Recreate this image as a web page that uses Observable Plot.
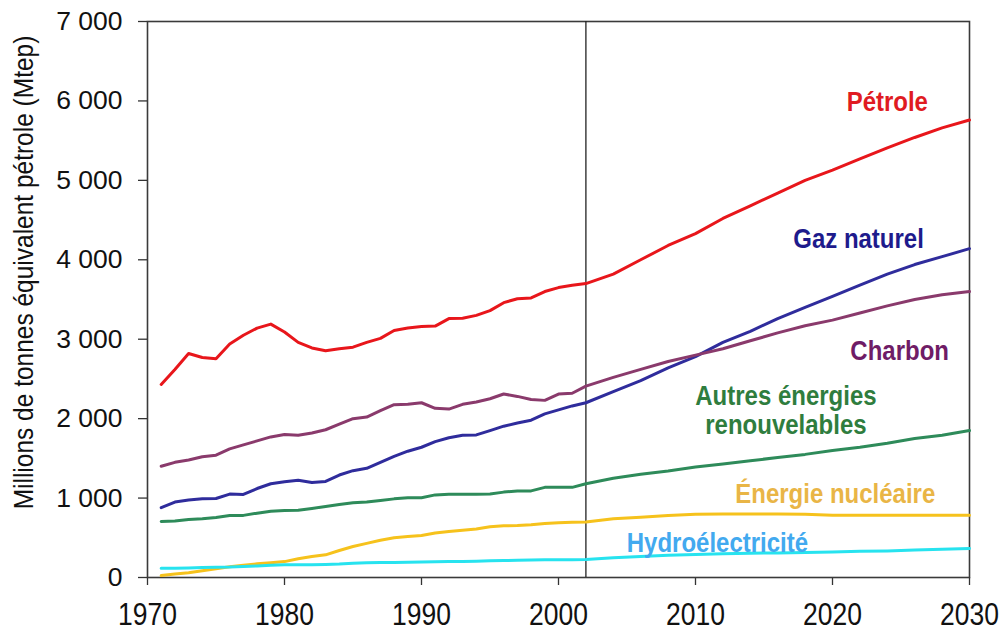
<!DOCTYPE html>
<html>
<head>
<meta charset="utf-8">
<script src="https://cdn.jsdelivr.net/npm/d3@7"></script>
<script src="https://cdn.jsdelivr.net/npm/@observablehq/plot@0.6"></script>
<style>
  html, body { margin: 0; padding: 0; background: #fff; }
  #chart svg { display: block; font-family: "Liberation Sans", Arial, sans-serif; }
</style>
</head>
<body>
<div id="chart"></div>
<script>
const years = [1971,1972,1973,1974,1975,1976,1977,1978,1979,1980,1981,1982,1983,1984,1985,1986,1987,1988,1989,1990,1991,1992,1993,1994,1995,1996,1997,1998,1999,2000,2001,2002,2004,2006,2008,2010,2012,2014,2016,2018,2020,2022,2024,2026,2028,2030];

const petrole = [2430,2620,2820,2770,2755,2940,3050,3140,3190,3090,2960,2890,2855,2880,2900,2960,3010,3110,3140,3160,3165,3260,3265,3300,3360,3460,3510,3520,3600,3650,3680,3700,3820,4000,4180,4330,4520,4680,4840,5000,5130,5270,5410,5540,5660,5760];
const gaz = [880,950,975,990,995,1050,1045,1120,1180,1205,1225,1195,1210,1290,1345,1375,1450,1525,1590,1640,1710,1760,1790,1795,1850,1905,1945,1980,2060,2110,2160,2200,2340,2480,2640,2780,2960,3100,3260,3400,3540,3680,3820,3940,4040,4140];
const charbon = [1400,1450,1480,1520,1540,1620,1670,1720,1770,1800,1790,1820,1860,1930,2000,2020,2100,2175,2180,2200,2130,2120,2180,2210,2250,2310,2280,2240,2230,2310,2320,2410,2520,2620,2720,2800,2880,2980,3080,3170,3240,3330,3420,3500,3560,3600];
const autres = [705,710,730,740,755,780,782,810,835,845,848,870,895,920,940,950,970,990,1005,1005,1040,1047,1047,1048,1050,1075,1090,1090,1135,1135,1135,1180,1250,1300,1340,1390,1430,1470,1510,1550,1600,1640,1690,1750,1790,1850];
const nucleaire = [25,45,60,85,110,135,155,172,185,200,235,265,285,340,390,430,470,500,515,530,560,580,595,610,640,650,655,665,680,690,695,700,740,760,780,795,800,800,800,795,785,785,785,785,785,785];
const hydro = [115,118,120,125,130,132,138,145,155,160,160,162,165,170,180,185,188,190,192,195,198,200,203,205,210,213,216,220,222,225,225,228,250,265,280,290,300,305,310,315,320,330,335,345,355,365];

const seriesNames = ["Pétrole", "Gaz naturel", "Charbon", "Autres énergies\nrenouvelables", "Énergie nucléaire", "Hydroélectricité"];
const seriesValues = [petrole, gaz, charbon, autres, nucleaire, hydro];
const lineColors = ["#e8161b", "#2f2c9c", "#8a3a6c", "#2e8b5a", "#f6c21c", "#27e3ef"];
const labelColors = ["#e01b22", "#1e1b8c", "#6f1c66", "#2f7d3e", "#e9b546", "#42a9ef"];
const labelYears = [2024.0, 2021.9, 2024.9, 2016.6, 2020.2, 2011.6];
const labelValues = [5993, 4268, 2858, 2109, 1058, 441];

const xTicks = [1970, 1980, 1990, 2000, 2010, 2020, 2030];
const yTicks = [0, 1000, 2000, 3000, 4000, 5000, 6000, 7000];
const splitYear = 2002;
const yTitle = "Millions de tonnes équivalent pétrole (Mtep)";

const fmtY = d => d === 0 ? "0" : d3.format(",")(d).replace(",", "\u00a0");

const lines = seriesValues.map((vals, i) =>
  Plot.line(vals, {x: years, y: vals, stroke: lineColors[i], strokeWidth: 3, strokeLinejoin: "round", strokeLinecap: "round"})
);

const labels = seriesNames.map((n, i) => ({name: n, year: labelYears[i], value: labelValues[i], color: labelColors[i]}));

const chart = Plot.plot({
  width: 1001,
  height: 633,
  marginLeft: 147,
  marginRight: 32,
  marginTop: 21,
  marginBottom: 56,
  x: {domain: [1970, 2030]},
  y: {domain: [0, 7000]},
  marks: [
    Plot.axisX({ticks: xTicks, tickFormat: d => String(d), tickSize: 8, tickPadding: 18, fontSize: 26.5, stroke: "#333", strokeWidth: 1.3, fill: "#111", label: null}),
    Plot.axisY({ticks: yTicks, tickFormat: fmtY, tickSize: 9, tickPadding: 16, fontSize: 26.5, stroke: "#333", strokeWidth: 1.3, fill: "#111", label: null}),
    Plot.text([yTitle], {frameAnchor: "left", textAnchor: "middle", rotate: -90, dx: -123, dy: -27, fontSize: 24.5, fill: "#111", text: d => d}),
    Plot.frame({stroke: "#3a3a3a", strokeWidth: 1.6}),
    Plot.ruleX([splitYear], {stroke: "#222", strokeWidth: 1.3}),
    ...lines,
    Plot.text(labels, {x: "year", y: "value", text: "name", fill: "color", fontSize: 24, fontWeight: "bold", lineHeight: 1.08, textAnchor: "middle"})
  ]
});

document.getElementById("chart").append(chart);

// the reference typeface is slightly condensed: draw some texts a little taller than wide
function stretch(selector, k) {
  d3.select(chart).selectAll(selector).each(function () {
    const tl = this.transform.baseVal;
    const c = tl.numberOfItems ? tl.consolidate() : null;
    const m = (c ? DOMMatrix.fromMatrix(c.matrix) : new DOMMatrix()).scale(1, k);
    this.setAttribute("transform", `matrix(${m.a},${m.b},${m.c},${m.d},${m.e},${m.f})`);
  });
}
stretch("g[aria-label='text'] > text", 1.12);
stretch("g[aria-label='x-axis tick label'] > text", 1.15);
</script>
</body>
</html>
